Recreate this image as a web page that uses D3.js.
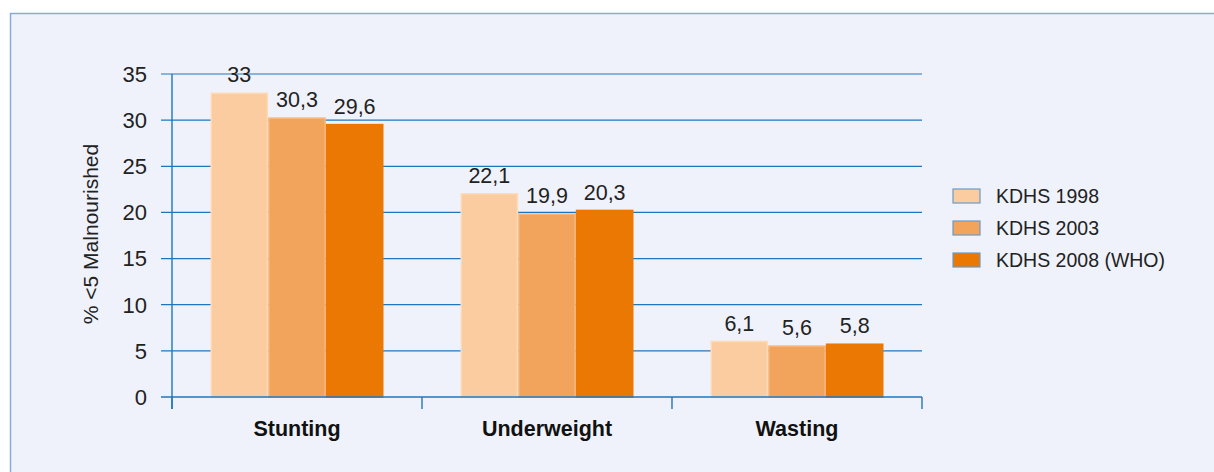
<!DOCTYPE html>
<html>
<head>
<meta charset="utf-8">
<script src="https://cdn.jsdelivr.net/npm/d3@7"></script>
<style>
  body { margin: 0; background: #fff; }
  text { font-family: "Liberation Sans", Arial, sans-serif; fill: #222; }
</style>
</head>
<body>
<div id="chart"></div>
<script>
const categories = ["Stunting", "Underweight", "Wasting"];
const series = ["KDHS 1998", "KDHS 2003", "KDHS 2008 (WHO)"];
const kdhs1998 = [33, 22.1, 6.1];
const kdhs2003 = [30.3, 19.9, 5.6];
const kdhs2008 = [29.6, 20.3, 5.8];
const yTicks = [0, 5, 10, 15, 20, 25, 30, 35];

const colors = ["#fbcc9f", "#f3a45c", "#ec7804"];
const borders = ["#fddbb9", "#f8b77c", "#ec7804"];
const blue = "#1f76bf";

const values = [kdhs1998, kdhs2003, kdhs2008];

const svg = d3.select("#chart")
  .append("svg")
  .attr("width", 1214)
  .attr("height", 472);

// panel
svg.append("rect")
  .attr("x", 10.5)
  .attr("y", 13.5)
  .attr("width", 1220)
  .attr("height", 480)
  .attr("fill", "#eff2fa")
  .attr("stroke", "#86acd6")
  .attr("stroke-width", 1.5);

const xScale = d3.scaleBand().domain(categories).range([172, 922]);
const xInner = d3.scaleBand().domain(series).range([38.5, 211.5]);
const yScale = d3.scaleLinear().domain([0, 35]).range([397, 74]);

// gridlines + y ticks
svg.append("g")
  .selectAll("line")
  .data(yTicks.filter(d => d > 0))
  .join("line")
  .attr("x1", 161)
  .attr("x2", 922)
  .attr("y1", d => yScale(d))
  .attr("y2", d => yScale(d))
  .attr("stroke", blue)
  .attr("stroke-width", 1.2);

svg.append("g")
  .selectAll("text")
  .data(yTicks)
  .join("text")
  .attr("x", 147)
  .attr("y", d => yScale(d))
  .attr("dy", "0.36em")
  .attr("text-anchor", "end")
  .style("font-size", "22px")
  .text(d => d);

// bars
categories.forEach((cat, ci) => {
  series.forEach((s, si) => {
    const v = values[si][ci];
    const x0 = xScale(cat) + xInner(s);
    svg.append("rect")
      .attr("x", x0 + 0.75)
      .attr("y", yScale(v) + 0.75)
      .attr("width", xInner.bandwidth() - 1.5)
      .attr("height", yScale(0) - yScale(v) - 0.75)
      .attr("fill", colors[si])
      .attr("stroke", borders[si])
      .attr("stroke-width", 1.5);

    svg.append("text")
      .attr("x", x0 + xInner.bandwidth() / 2)
      .attr("y", yScale(v) - 10)
      .attr("text-anchor", "middle")
      .style("font-size", "21.5px")
      .text(String(v).replace(".", ","));
  });
});

// axes lines
svg.append("line")
  .attr("x1", 172).attr("x2", 172)
  .attr("y1", yScale(35)).attr("y2", 409)
  .attr("stroke", blue).attr("stroke-width", 1.4);

svg.append("line")
  .attr("x1", 161).attr("x2", 922)
  .attr("y1", yScale(0)).attr("y2", yScale(0))
  .attr("stroke", blue).attr("stroke-width", 1.4);

const bounds = categories.map(c => xScale(c)).concat([xScale.range()[1]]);
svg.append("g")
  .selectAll("line")
  .data(bounds)
  .join("line")
  .attr("x1", d => d).attr("x2", d => d)
  .attr("y1", yScale(0)).attr("y2", 409)
  .attr("stroke", blue).attr("stroke-width", 1.4);

svg.append("g")
  .selectAll("text")
  .data(categories)
  .join("text")
  .attr("x", d => xScale(d) + xScale.bandwidth() / 2)
  .attr("y", 436)
  .attr("text-anchor", "middle")
  .style("font-size", "21.5px")
  .style("font-weight", "bold")
  .style("fill", "#111")
  .text(d => d);

// y axis title
svg.append("text")
  .attr("transform", "translate(90, 234) rotate(-90)")
  .attr("dy", "0.36em")
  .attr("text-anchor", "middle")
  .style("font-size", "21px")
  .text("% <5 Malnourished");

// legend
const legend = svg.append("g");
series.forEach((s, i) => {
  const y = 189 + i * 32;
  legend.append("rect")
    .attr("x", 953)
    .attr("y", y)
    .attr("width", 27)
    .attr("height", 14)
    .attr("fill", colors[i])
    .attr("stroke", "#6b9ac8")
    .attr("stroke-width", 1.2);
  legend.append("text")
    .attr("x", 996)
    .attr("y", y + 7)
    .attr("dy", "0.36em")
    .style("font-size", "19.5px")
    .text(s);
});
</script>
</body>
</html>
